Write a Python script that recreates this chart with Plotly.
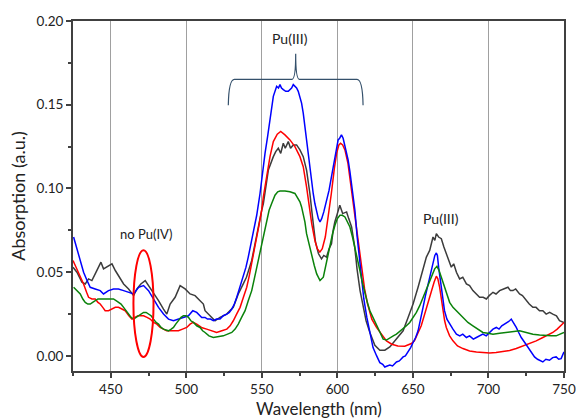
import plotly.graph_objects as go

# ---------------- data ----------------
black_nm = [425.0, 427.6, 430.9, 433.1, 435.3, 437.5, 439.7, 441.9, 443.5, 445.2, 447.4, 450.8, 453.0, 455.1,
            458.5, 461.8, 465.1, 467.3, 469.9, 472.8, 475.0, 478.3, 481.6, 484.9, 487.1, 489.3, 492.6, 495.9,
            499.2, 502.5, 505.8, 509.1, 511.3, 512.4, 515.7, 519.0, 522.3, 526.7, 531.1, 534.4, 537.7, 539.8,
            543.3, 546.6, 549.9, 551.0, 554.3, 557.6, 559.2, 560.9, 562.5, 564.2, 565.5, 567.5, 569.0, 570.8,
            573.0, 575.2, 577.4, 579.6, 581.8, 583.5, 585.5, 587.5, 589.5, 591.0, 592.8, 594.5, 596.1, 597.2,
            598.3, 600.0, 601.6, 603.5, 606.1, 607.5, 609.4, 611.5, 613.0, 615.0, 617.0, 619.0, 621.5, 624.8,
            628.1, 631.4, 634.7, 639.1, 643.5, 646.8, 650.1, 653.4, 656.7, 658.9, 661.1, 663.3, 664.5, 665.5,
            667.0, 668.8, 670.5, 672.1, 675.4, 677.0, 678.8, 680.9, 683.0, 685.4, 687.5, 689.7, 692.0, 694.1,
            696.5, 698.6, 700.5, 703.0, 705.0, 707.4, 710.0, 712.9, 714.5, 716.2, 718.0, 720.6, 722.5, 725.0,
            727.0, 729.4, 731.5, 733.8, 736.0, 738.2, 740.5, 742.6, 745.0, 747.0, 750.0]
black_abs = [0.053, 0.050, 0.044, 0.043, 0.046, 0.045, 0.049, 0.053, 0.056, 0.052, 0.053, 0.055, 0.051, 0.048,
             0.043, 0.040, 0.036, 0.040, 0.043, 0.045, 0.042, 0.038, 0.033, 0.028, 0.025, 0.031, 0.035, 0.042,
             0.040, 0.037, 0.036, 0.033, 0.031, 0.027, 0.024, 0.021, 0.023, 0.025, 0.029, 0.037, 0.043, 0.047,
             0.057, 0.073, 0.087, 0.091, 0.111, 0.119, 0.122, 0.124, 0.121, 0.127, 0.124, 0.128, 0.124, 0.126,
             0.126, 0.123, 0.119, 0.111, 0.097, 0.083, 0.068, 0.061, 0.058, 0.060, 0.059, 0.064, 0.067, 0.075,
             0.080, 0.085, 0.090, 0.085, 0.086, 0.082, 0.077, 0.065, 0.052, 0.039, 0.029, 0.021, 0.014, 0.0064,
             0.0034, 0.0034, 0.0054, 0.0104, 0.015, 0.023, 0.031, 0.041, 0.051, 0.059, 0.063, 0.071, 0.069, 0.073,
             0.071, 0.070, 0.065, 0.061, 0.053, 0.055, 0.050, 0.046, 0.047, 0.043, 0.042, 0.039, 0.037, 0.035,
             0.035, 0.034, 0.036, 0.038, 0.037, 0.039, 0.040, 0.041, 0.039, 0.039, 0.040, 0.037, 0.036, 0.033,
             0.031, 0.029, 0.029, 0.027, 0.027, 0.025, 0.026, 0.025, 0.024, 0.021, 0.020]

red_nm = [425.0, 426.5, 428.7, 430.5, 432.0, 434.0, 435.3, 437.5, 439.7, 441.5, 443.0, 444.7, 446.3, 448.5,
          450.8, 453.0, 455.1, 457.5, 459.6, 462.0, 464.0, 466.0, 468.0, 470.0, 471.7, 474.0, 476.1, 478.3,
          480.5, 482.7, 484.9, 487.0, 489.3, 492.0, 494.8, 497.5, 500.3, 502.5, 504.5, 506.9, 510.0, 513.5,
          517.0, 520.1, 523.5, 526.8, 529.0, 531.1, 533.3, 535.6, 537.8, 540.0, 541.7, 543.3, 545.0, 546.6,
          548.3, 549.9, 551.0, 553.2, 555.4, 557.6, 560.2, 562.5, 565.3, 568.6, 571.9, 575.2, 577.4, 579.6,
          581.8, 583.0, 585.1, 586.7, 588.4, 590.0, 592.0, 594.0, 596.0, 598.0, 599.5, 601.0, 602.1, 603.5,
          605.0, 607.0, 609.0, 611.0, 613.0, 614.5, 616.2, 618.0, 620.0, 622.8, 625.9, 629.0, 632.5, 636.0,
          640.0, 644.6, 647.0, 649.0, 651.0, 653.4, 655.5, 657.8, 660.0, 662.2, 664.0, 665.5, 666.5, 667.7,
          668.8, 669.9, 671.0, 672.1, 674.3, 676.5, 679.5, 683.1, 687.5, 692.0, 696.5, 700.8, 705.0, 709.6,
          714.0, 718.4, 722.8, 727.2, 731.6, 736.0, 739.5, 742.6, 745.5, 748.1, 750.0]
red_abs = [0.057, 0.054, 0.050, 0.046, 0.043, 0.038, 0.035, 0.034, 0.034, 0.032, 0.031, 0.029, 0.027, 0.027,
           0.028, 0.029, 0.029, 0.028, 0.027, 0.024, 0.022, 0.023, 0.024, 0.024, 0.024, 0.023, 0.022, 0.020,
           0.019, 0.017, 0.016, 0.015, 0.015, 0.015, 0.015, 0.016, 0.017, 0.019, 0.020, 0.019, 0.017, 0.016,
           0.015, 0.014, 0.015, 0.016, 0.018, 0.021, 0.025, 0.029, 0.035, 0.041, 0.048, 0.055, 0.063, 0.071,
           0.079, 0.087, 0.095, 0.107, 0.119, 0.128, 0.1324, 0.134, 0.132, 0.129, 0.125, 0.119, 0.113, 0.101,
           0.087, 0.079, 0.069, 0.064, 0.062, 0.064, 0.071, 0.083, 0.097, 0.112, 0.121, 0.126, 0.127, 0.126,
           0.123, 0.115, 0.101, 0.087, 0.073, 0.062, 0.050, 0.040, 0.031, 0.022, 0.017, 0.013, 0.009, 0.007,
           0.006, 0.0058, 0.0065, 0.0074, 0.009, 0.014, 0.018, 0.025, 0.032, 0.039, 0.044, 0.0476, 0.046, 0.041,
           0.034, 0.027, 0.021, 0.017, 0.012, 0.009, 0.006, 0.0044, 0.003, 0.0024, 0.002, 0.0018, 0.002, 0.0024,
           0.0032, 0.0044, 0.0058, 0.0074, 0.009, 0.011, 0.0125, 0.014, 0.016, 0.018, 0.020]

blue_nm = [425.4, 427.6, 429.8, 432.0, 434.3, 436.4, 439.7, 443.0, 445.2, 448.5, 451.8, 455.1, 458.5, 461.8,
           465.1, 468.4, 471.7, 475.0, 478.3, 481.6, 484.9, 488.2, 491.5, 494.8, 498.1, 501.4, 504.3, 506.9,
           510.2, 512.4, 514.0, 516.0, 517.9, 520.0, 522.3, 524.5, 526.8, 528.5, 530.1, 531.8, 533.4, 535.5,
           537.7, 539.5, 541.0, 542.7, 544.3, 546.6, 548.8, 550.5, 552.1, 553.8, 555.4, 557.6, 559.8, 561.0,
           562.0, 563.0, 564.2, 565.8, 567.5, 568.5, 569.7, 570.8, 571.9, 573.0, 574.1, 575.2, 576.3, 577.4,
           578.5, 579.6, 580.7, 581.8, 583.0, 584.0, 585.1, 586.2, 587.4, 588.5, 589.6, 591.0, 592.8, 594.5,
           596.1, 597.8, 599.4, 600.5, 601.5, 602.7, 603.8, 604.9, 606.0, 607.1, 608.3, 609.4, 610.5, 611.6,
           613.0, 614.5, 616.0, 617.5, 619.5, 621.5, 623.6, 626.0, 628.1, 630.0, 631.4, 633.0, 634.7, 636.5,
           639.1, 641.0, 643.5, 645.0, 646.8, 648.5, 650.1, 651.8, 653.4, 655.0, 656.7, 658.3, 660.0, 661.6,
           663.3, 664.5, 665.5, 666.2, 667.0, 668.0, 668.8, 670.0, 670.9, 672.5, 674.3, 676.5, 678.8, 681.0,
           683.0, 685.4, 687.5, 690.0, 692.0, 694.0, 696.3, 698.5, 700.8, 703.0, 705.2, 707.0, 708.8, 710.7,
           712.5, 714.0, 715.1, 716.5, 718.4, 720.0, 721.7, 724.0, 726.1, 728.0, 730.5, 732.5, 734.0, 736.0,
           738.0, 740.4, 742.5, 744.8, 746.5, 748.1, 750.0]
blue_abs = [0.071, 0.064, 0.056, 0.050, 0.045, 0.041, 0.040, 0.039, 0.037, 0.039, 0.040, 0.040, 0.039, 0.038,
            0.037, 0.041, 0.042, 0.039, 0.034, 0.029, 0.025, 0.022, 0.021, 0.022, 0.023, 0.024, 0.027, 0.026,
            0.023, 0.023, 0.022, 0.022, 0.021, 0.022, 0.022, 0.024, 0.025, 0.026, 0.028, 0.031, 0.035, 0.041,
            0.047, 0.053, 0.059, 0.066, 0.073, 0.084, 0.097, 0.110, 0.121, 0.131, 0.141, 0.155, 0.161, 0.160,
            0.162, 0.160, 0.159, 0.158, 0.158, 0.159, 0.160, 0.162, 0.161, 0.160, 0.158, 0.155, 0.151, 0.145,
            0.137, 0.128, 0.119, 0.111, 0.103, 0.097, 0.091, 0.086, 0.082, 0.080, 0.082, 0.086, 0.092, 0.099,
            0.107, 0.116, 0.124, 0.129, 0.130, 0.132, 0.130, 0.126, 0.122, 0.117, 0.110, 0.103, 0.096, 0.087,
            0.072, 0.058, 0.045, 0.034, 0.023, 0.013, 0.005, 0.000, -0.004, -0.005, -0.0066, -0.006, -0.0055, -0.006,
            -0.0036, -0.003, -0.0006, 0.000, 0.0024, 0.005, 0.008, 0.011, 0.015, 0.021, 0.029, 0.036, 0.043, 0.050,
            0.057, 0.060, 0.0615, 0.060, 0.053, 0.046, 0.041, 0.033, 0.027, 0.022, 0.019, 0.016, 0.013, 0.012,
            0.013, 0.011, 0.012, 0.010, 0.011, 0.012, 0.013, 0.012, 0.014, 0.016, 0.017, 0.016, 0.018, 0.019,
            0.020, 0.021, 0.022, 0.020, 0.017, 0.014, 0.011, 0.008, 0.005, 0.003, -0.0006, -0.002, -0.0025, -0.0036,
            -0.002, -0.0026, -0.001, -0.0006, -0.002, -0.0016, 0.0024]

green_nm = [425.4, 427.5, 429.8, 431.5, 433.1, 434.8, 436.4, 438.0, 439.7, 441.5, 443.0, 445.0, 447.5, 450.0,
            451.8, 453.5, 455.1, 456.8, 458.5, 460.0, 461.8, 463.5, 465.1, 466.8, 468.4, 470.0, 471.7, 473.4,
            475.0, 476.7, 478.3, 480.0, 481.6, 483.3, 484.9, 486.5, 488.2, 490.0, 491.5, 493.0, 494.8, 496.5,
            498.1, 499.8, 501.4, 503.0, 504.7, 506.9, 509.1, 510.8, 512.4, 515.0, 517.9, 521.0, 524.5, 527.3,
            530.1, 532.3, 534.4, 536.6, 538.9, 541.0, 543.3, 545.0, 546.6, 548.3, 549.9, 551.6, 553.2, 554.8,
            556.5, 558.7, 560.5, 562.0, 565.3, 568.6, 571.9, 574.1, 575.2, 576.3, 577.4, 578.5, 579.6, 581.3,
            583.0, 584.7, 586.3, 588.5, 590.7, 592.9, 595.1, 596.8, 598.4, 600.0, 601.7, 603.3, 605.0, 606.6,
            608.3, 610.0, 611.6, 613.2, 614.9, 616.5, 618.2, 619.8, 621.5, 623.7, 625.9, 628.1, 630.3, 632.5,
            634.7, 637.0, 639.1, 641.3, 643.5, 645.7, 647.9, 650.0, 652.3, 654.5, 656.7, 659.0, 661.1, 663.0,
            664.4, 665.9, 667.3, 668.8, 670.5, 672.1, 674.3, 676.5, 679.8, 683.1, 686.4, 689.7, 693.0, 696.3,
            699.6, 703.0, 707.4, 711.8, 716.2, 720.6, 725.0, 729.4, 733.8, 738.2, 741.5, 744.8, 747.5, 750.0]
green_abs = [0.041, 0.039, 0.037, 0.034, 0.032, 0.031, 0.031, 0.032, 0.033, 0.034, 0.034, 0.034, 0.034, 0.034,
             0.034, 0.033, 0.032, 0.031, 0.029, 0.027, 0.025, 0.023, 0.022, 0.023, 0.024, 0.025, 0.026, 0.026,
             0.025, 0.024, 0.022, 0.020, 0.019, 0.017, 0.016, 0.0155, 0.015, 0.016, 0.017, 0.019, 0.021, 0.023,
             0.024, 0.024, 0.023, 0.021, 0.020, 0.018, 0.017, 0.015, 0.014, 0.012, 0.011, 0.0115, 0.012, 0.013,
             0.014, 0.016, 0.019, 0.023, 0.027, 0.033, 0.039, 0.046, 0.053, 0.060, 0.067, 0.074, 0.081, 0.087,
             0.091, 0.096, 0.098, 0.0985, 0.0985, 0.098, 0.097, 0.094, 0.092, 0.089, 0.085, 0.080, 0.073, 0.066,
             0.059, 0.054, 0.049, 0.045, 0.047, 0.057, 0.067, 0.073, 0.078, 0.082, 0.084, 0.084, 0.083, 0.080,
             0.077, 0.071, 0.065, 0.058, 0.051, 0.044, 0.037, 0.032, 0.027, 0.023, 0.019, 0.014, 0.010, 0.0095,
             0.011, 0.012, 0.013, 0.0145, 0.016, 0.018, 0.020, 0.023, 0.026, 0.030, 0.035, 0.040, 0.045, 0.050,
             0.052, 0.0535, 0.051, 0.047, 0.042, 0.037, 0.032, 0.029, 0.026, 0.023, 0.020, 0.018, 0.016, 0.014,
             0.0135, 0.013, 0.0135, 0.014, 0.0145, 0.015, 0.014, 0.013, 0.0125, 0.012, 0.012, 0.012, 0.013, 0.014]

x_ticks = [450, 500, 550, 600, 650, 700, 750]
y_ticks = [0.00, 0.05, 0.10, 0.15, 0.20]
y_tick_text = ["0.00", "0.05", "0.10", "0.15", "0.20"]

# annotation anchors (data units)
brace_left, brace_mid, brace_right = 527.8, 572.4, 617.0
brace_low, brace_bar, brace_tip = 0.1497, 0.1652, 0.1805
ellipse_x = (465.0, 478.3)
ellipse_y = (-0.0006, 0.0631)

# ---------------- figure ----------------
fig = go.Figure()
series = [
    (black_nm, black_abs, "#3c3c3c"),
    (red_nm, red_abs, "#ff0000"),
    (blue_nm, blue_abs, "#0000ff"),
    (green_nm, green_abs, "#0a820a"),
]
for xs, ys, col in series:
    fig.add_trace(go.Scatter(x=xs, y=ys, mode="lines", line=dict(color=col, width=1.5), showlegend=False))

brace_path = (
    f"M {brace_left},{brace_low} "
    f"Q {brace_left + 0.3},{brace_bar} {brace_left + 4},{brace_bar} "
    f"L {brace_mid - 2.5},{brace_bar} "
    f"Q {brace_mid},{brace_bar} {brace_mid},{brace_tip} "
    f"Q {brace_mid},{brace_bar} {brace_mid + 2.5},{brace_bar} "
    f"L {brace_right - 4},{brace_bar} "
    f"Q {brace_right - 0.3},{brace_bar} {brace_right},{brace_low}"
)
fig.add_shape(type="path", path=brace_path, xref="x", yref="y",
              line=dict(color="#34506b", width=1.2))
fig.add_shape(type="circle", xref="x", yref="y",
              x0=ellipse_x[0], x1=ellipse_x[1], y0=ellipse_y[0], y1=ellipse_y[1],
              line=dict(color="#ff0000", width=2))

FONT = "Lato, sans-serif"
ann_font = dict(family=FONT, size=14, color="#222222")
fig.add_annotation(x=568.7, y=0.1897, text="Pu(III)", showarrow=False, font=ann_font, xref="x", yref="y")
fig.add_annotation(x=473.4, y=0.0727, text="no Pu(IV)", showarrow=False, font=dict(ann_font, size=13),
                   xref="x", yref="y")
fig.add_annotation(x=668.4, y=0.082, text="Pu(III)", showarrow=False, font=ann_font, xref="x", yref="y")
# x-axis title placed as an annotation so it can sit close to the bottom edge like the reference
fig.add_annotation(x=0.5, y=-0.1066, xref="paper", yref="paper", yanchor="middle", showarrow=False,
                   text="Wavelength (nm)", font=dict(family=FONT, size=17, color="#222222"), borderpad=0)

axis_common = dict(
    showline=True, linecolor="#404040", linewidth=2, mirror=True,
    ticks="outside", tickcolor="#404040", tickwidth=1.5, ticklen=5,
    zeroline=False, ticklabeloverflow="allow",
    tickfont=dict(family=FONT, size=13.5, color="#222222"),
)
fig.update_xaxes(
    range=[425, 750], tickvals=x_ticks, ticktext=[str(v) for v in x_ticks],
    showgrid=True, gridcolor="#a0a0a0", gridwidth=1,
    minor=dict(dtick=25, tick0=425, ticks="outside", ticklen=3, tickcolor="#404040", showgrid=False),
    **axis_common,
)
fig.update_yaxes(
    range=[-0.009, 0.2], tickvals=y_ticks, ticktext=y_tick_text,
    showgrid=False,
    minor=dict(dtick=0.025, tick0=0, ticks="outside", ticklen=3, tickcolor="#404040", showgrid=False),
    title=dict(text="Absorption (a.u.)", font=dict(family=FONT, size=18, color="#222222"),
               standoff=6),
    **axis_common,
)
fig.update_layout(
    width=576, height=419,
    margin=dict(l=73, r=12, t=21, b=48, autoexpand=False),
    plot_bgcolor="white", paper_bgcolor="white",
    showlegend=False,
)
fig.write_html("out.html")
